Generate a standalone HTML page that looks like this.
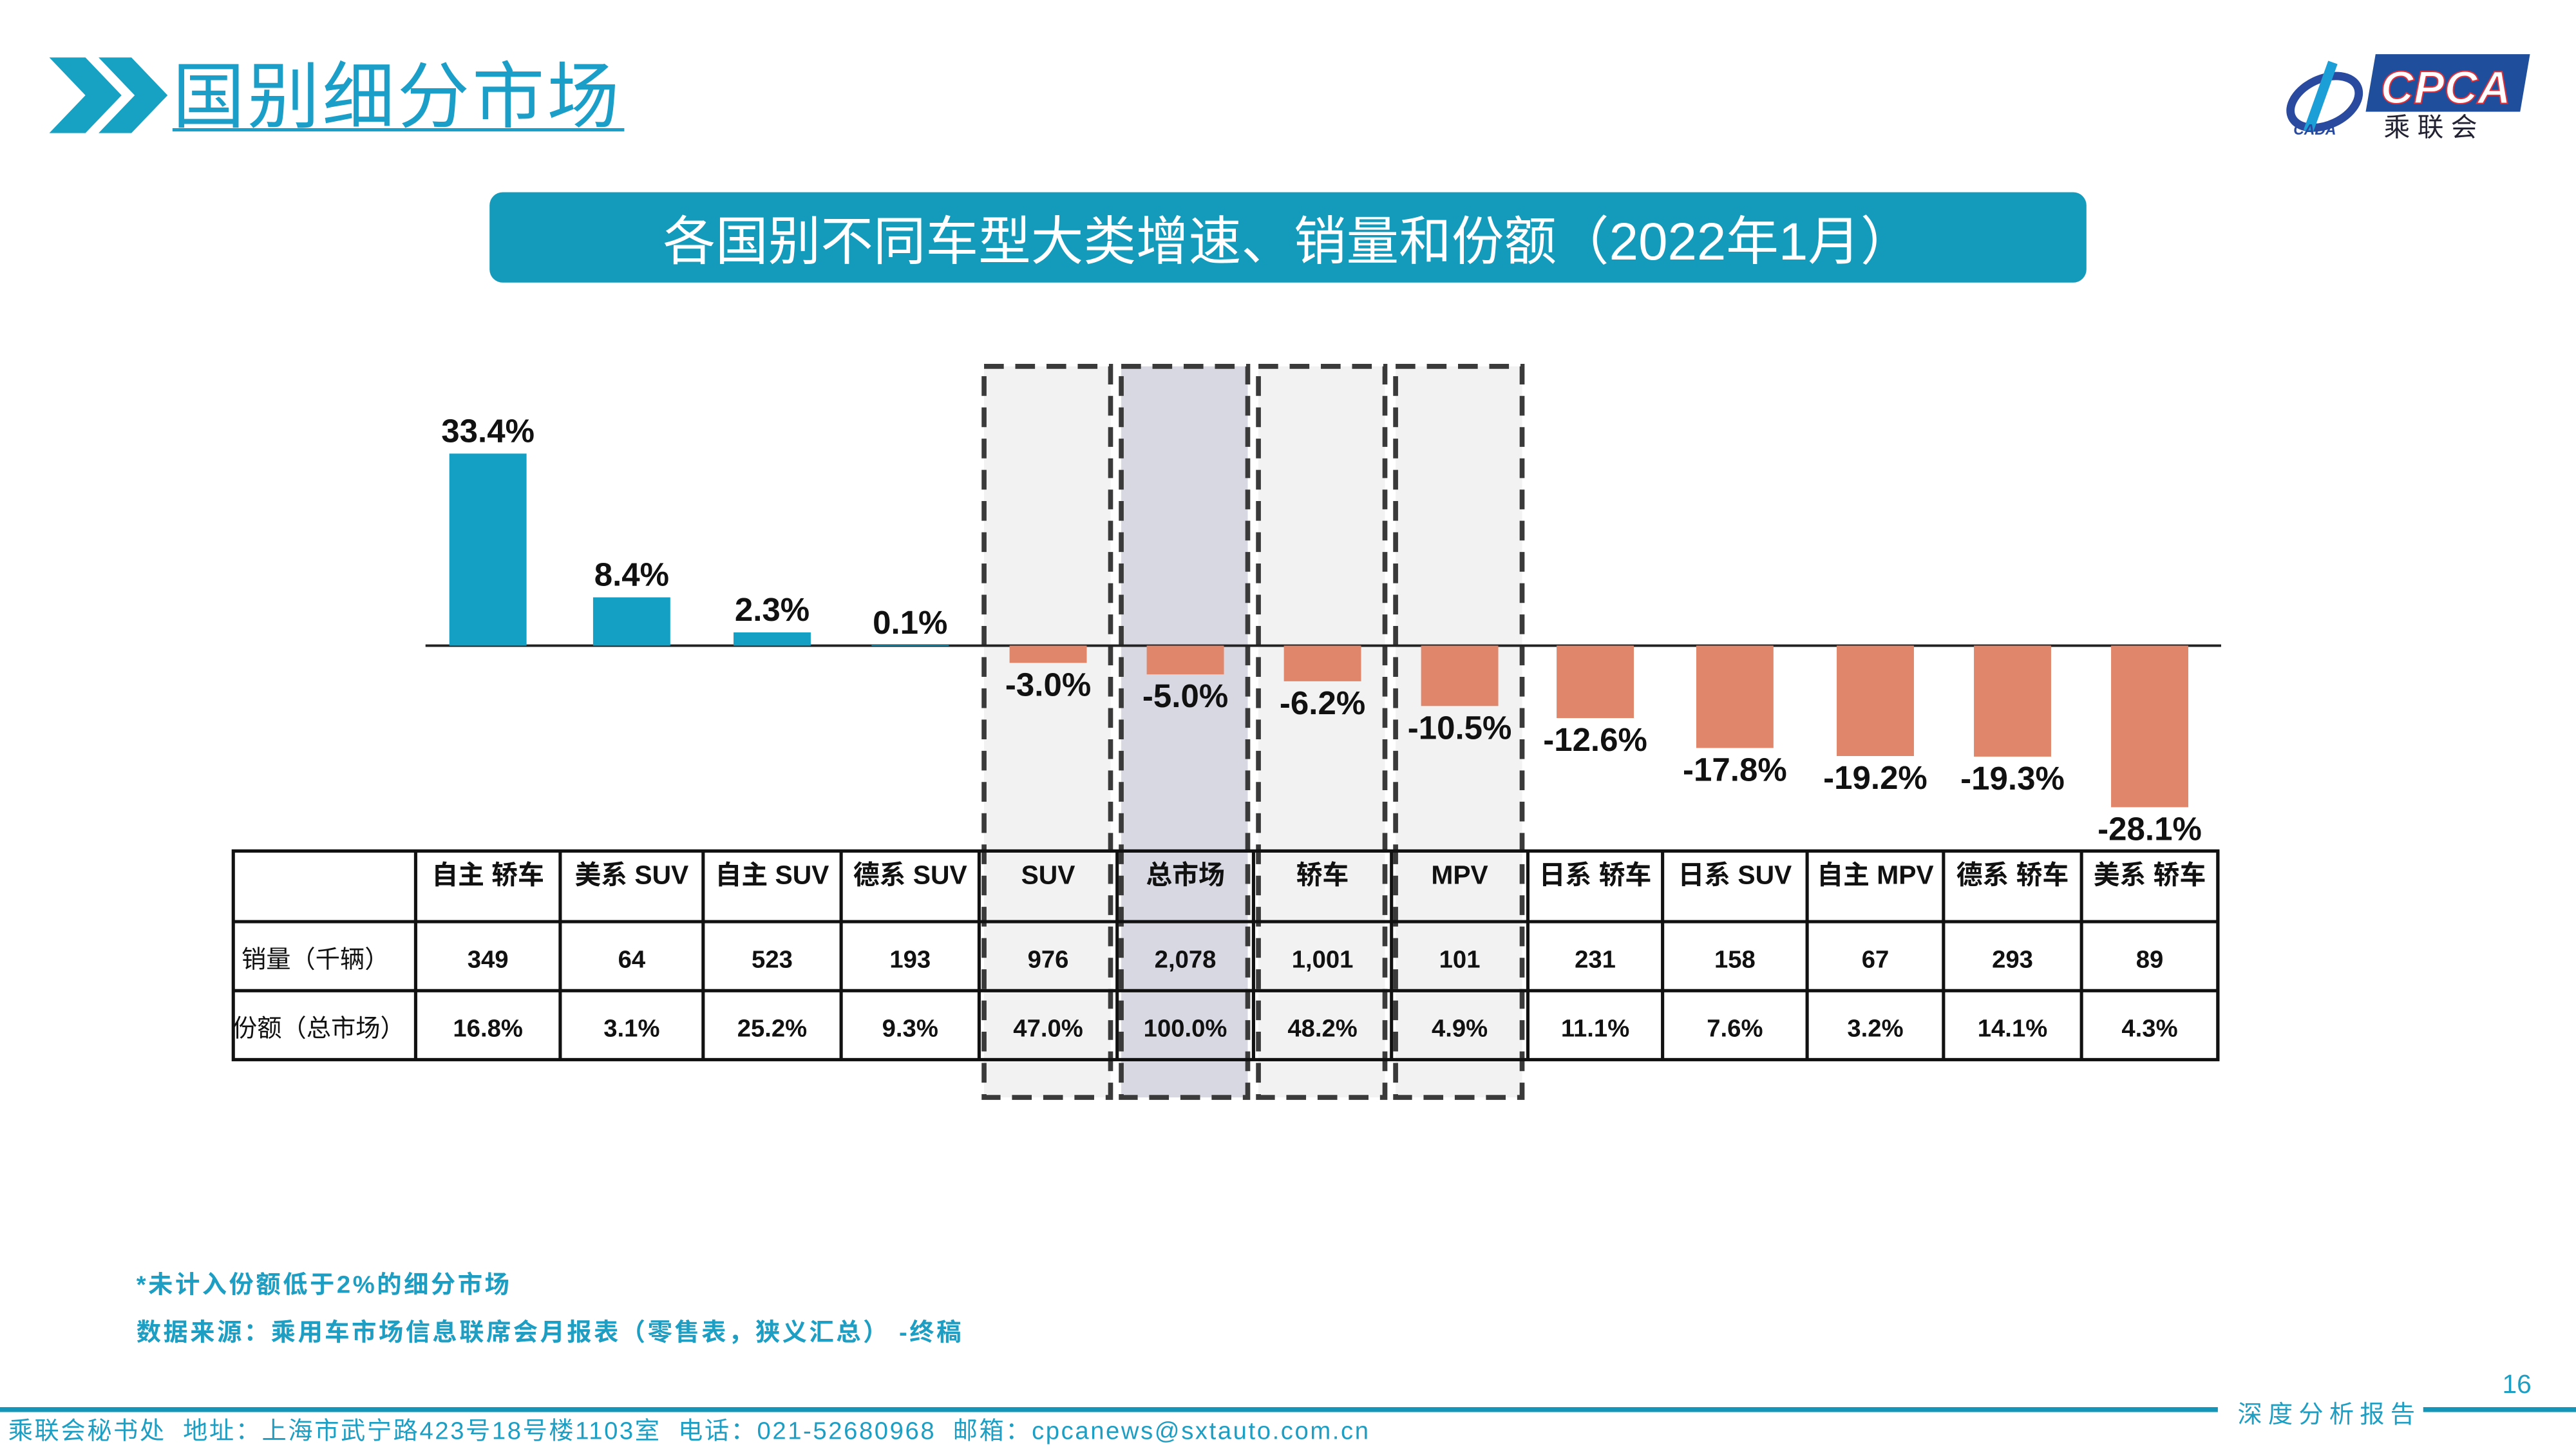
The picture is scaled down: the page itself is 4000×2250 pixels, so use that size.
<!DOCTYPE html>
<html><head><meta charset="utf-8"><style>
html,body{margin:0;padding:0;background:#fff}
svg{display:block}
text{font-family:"Liberation Sans","Noto Sans CJK SC",sans-serif}
</style></head><body>
<svg id="s" xmlns="http://www.w3.org/2000/svg" width="4000" height="2250" viewBox="0 0 1568 882">
<g fill="#17a2c4">
<polygon points="30,35 52,35 74,58 52,81 30,81 52,58"/>
<polygon points="60,35 80,35 102,58 80,81 60,81 82,58"/>
</g>
<text x="105" y="74" font-size="44" fill="#1b9fc9" textLength="272">国别细分市场</text>
<line x1="105" y1="79" x2="380" y2="79" stroke="#1b9fc9" stroke-width="2"/>
<g>
<ellipse cx="1415" cy="62" rx="22" ry="14" fill="none" stroke="#2a4aa0" stroke-width="5" transform="rotate(-25 1415 62)"/>
<path d="M1420 38 L1405 80" stroke="#1b9fd6" stroke-width="6"/>
<text x="1396" y="82" font-size="9" font-style="italic" font-weight="bold" fill="#2a4aa0">CADA</text>
<polygon points="1446,33 1540,33 1534,68 1440,68" fill="#1f4f9c"/>
<text x="1449" y="63" font-size="28" font-style="italic" font-weight="bold" fill="#fff" stroke="#e0303a" stroke-width="0.8">CPCA</text>
<text x="1451" y="83" font-size="16" fill="#223">乘 联 会</text>
</g>
<rect x="298" y="117" width="972" height="55" rx="8" fill="#149bbb"/>
<text x="784" y="158" font-size="32" fill="#fff" text-anchor="middle">各国别不同车型大类增速、销量和份额（2022年1月）</text>
<g id="hl"></g>
<g id="bars"></g>
<g id="tbl"></g>
<text x="83" y="787" font-size="15" font-weight="bold" fill="#1f9ec3" textLength="227">*未计入份额低于2%的细分市场</text>
<text x="83" y="816" font-size="15" font-weight="bold" fill="#1f9ec3" textLength="502">数据来源：乘用车市场信息联席会月报表（零售表，狭义汇总） -终稿</text>
<text x="1532" y="848" font-size="16" fill="#1f9ec3" text-anchor="middle">16</text>
<line x1="0" y1="858" x2="1350" y2="858" stroke="#1596b8" stroke-width="3"/>
<line x1="1475" y1="858" x2="1568" y2="858" stroke="#1596b8" stroke-width="3"/>
<text x="1362" y="866" font-size="15" fill="#1f9ec3" textLength="108">深度分析报告</text>
<text x="5" y="876" font-size="15" fill="#1f9ec3" textLength="828" xml:space="preserve">乘联会秘书处  地址：上海市武宁路423号18号楼1103室  电话：021-52680968  邮箱：cpcanews@sxtauto.com.cn</text>
</svg>
<script>
const categories=["自主 轿车","美系 SUV","自主 SUV","德系 SUV","SUV","总市场","轿车","MPV","日系 轿车","日系 SUV","自主 MPV","德系 轿车","美系 轿车"];
const growth=[33.4,8.4,2.3,0.1,-3.0,-5.0,-6.2,-10.5,-12.6,-17.8,-19.2,-19.3,-28.1];
const sales=["349","64","523","193","976","2,078","1,001","101","231","158","67","293","89"];
const shares=["16.8%","3.1%","25.2%","9.3%","47.0%","100.0%","48.2%","4.9%","11.1%","7.6%","3.2%","14.1%","4.3%"];
const highlighted=[4,5,6,7];
const NS="http://www.w3.org/2000/svg";
function mk(t,a,p){const e=document.createElementNS(NS,t);for(const k in a)e.setAttribute(k,a[k]);p.appendChild(e);return e;}
const edges=[253,341,428,512,596,680,763,847,930,1012,1100,1183,1267,1350];
const base=393,k=3.5;
const xb=i=>(edges[i]+edges[i+1])/2;
const yv=v=>base-v*k;
const hl=document.getElementById('hl'),bars=document.getElementById('bars'),tbl=document.getElementById('tbl');
highlighted.forEach(i=>{
 const r=mk('rect',{x:xb(i)-39,y:223,width:77,height:445,fill:categories[i]==="总市场"?"#d8d8e2":"#f2f2f2",stroke:"#3a3a3a","stroke-width":3,"stroke-dasharray":"12,7"},hl);
 
 
});
mk('line',{x1:259,y1:base,x2:1352,y2:base,stroke:"#222","stroke-width":1.5},bars);
growth.forEach((v,i)=>{
 const y=Math.min(yv(v),base),h=Math.abs(v*k);
 const r=mk('rect',{x:xb(i)-23.5,y:y,width:47,height:Math.max(h,0.5),fill:v>=0?"#13a0c4":"#e0866a"},bars);
 
 
 const t=mk('text',{x:xb(i),y:v>=0?yv(v)-7:yv(v)+20,"font-size":20,"font-weight":"bold","text-anchor":"middle",fill:"#111"},bars);
 t.textContent=v.toFixed(1)+"%";
 
 
});
mk('rect',{x:142,y:518,width:1208,height:127,fill:"none",stroke:"#111","stroke-width":2},tbl);
[561,603].forEach(y=>mk('line',{x1:142,y1:y,x2:1350,y2:y,stroke:"#111","stroke-width":2},tbl));
edges.forEach(x=>mk('line',{x1:x,y1:518,x2:x,y2:645,stroke:"#111","stroke-width":2},tbl));
const l1=mk('text',{x:192,y:589,"font-size":15,"text-anchor":"middle",fill:"#111"},tbl);l1.textContent="销量（千辆）";


const l2=mk('text',{x:194,y:631,"font-size":15,"text-anchor":"middle",fill:"#111"},tbl);l2.textContent="份额（总市场）";


categories.forEach((c,i)=>{
 const a=mk('text',{x:xb(i),y:538,"font-size":16,"font-weight":"bold","text-anchor":"middle",fill:"#111"},tbl);a.textContent=c;
 
 
 const b=mk('text',{x:xb(i),y:589,"font-size":15,"font-weight":"bold","text-anchor":"middle",fill:"#111"},tbl);b.textContent=sales[i];
 
 
 const d=mk('text',{x:xb(i),y:631,"font-size":15,"font-weight":"bold","text-anchor":"middle",fill:"#111"},tbl);d.textContent=shares[i];
 
 
});
</script>
</body></html>
